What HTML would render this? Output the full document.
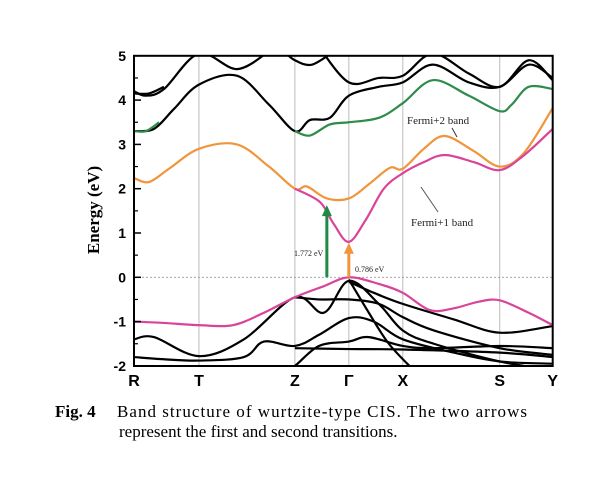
<!DOCTYPE html>
<html><head><meta charset="utf-8"><style>
body{margin:0;background:#fff;width:600px;height:481px;overflow:hidden}
svg{display:block}
</style></head><body>
<svg id="chart" width="600" height="481">
<defs><clipPath id="pc"><rect x="134" y="55.8" width="418.7" height="310.2"/></clipPath></defs>
<g id="grid"></g>
<line x1="134" x2="552.7" y1="277.3" y2="277.3" stroke="#999" stroke-dasharray="2,2" stroke-width="0.8"/>
<g id="bands" clip-path="url(#pc)"></g>
<rect x="134" y="55.8" width="418.7" height="310.2" fill="none" stroke="#000" stroke-width="2"/>
<g id="yaxis"></g>
<g id="xaxis"></g>
<text transform="translate(99,210) rotate(-90)" text-anchor="middle" font-family="Liberation Serif,serif" font-weight="bold" font-size="17">Energy (eV)</text>
<g id="ann"></g>
<text x="55" y="417" font-family="Liberation Serif,serif" font-size="17" font-weight="bold">Fig. 4</text>
<text x="117" y="417" font-family="Liberation Serif,serif" font-size="17" textLength="410" lengthAdjust="spacing">Band structure of wurtzite-type CIS. The two arrows</text>
<text x="119" y="437" font-family="Liberation Serif,serif" font-size="17">represent the first and second transitions.</text>
</svg>
<script>
const kLabels=['R','T','Z','Γ','X','S','Y'];
const kPos=[0,65,161,215,269,366,419];
const yTicks=[-2,-1,0,1,2,3,4,5];
const magentaVB=[[0,-1.0],[30,-1.03],[65,-1.08],[99,-1.08],[130,-0.8],[161,-0.45],[190,-0.2],[215,0.0],[245,-0.15],[269,-0.35],[296,-0.74],[320,-0.7],[345,-0.55],[366,-0.52],[395,-0.8],[419,-1.08]];
const magentaCB=[[161,2.0],[186,1.7],[200,1.2],[215,0.8],[232,1.3],[250,2.0],[269,2.35],[290,2.6],[311,2.76],[340,2.6],[366,2.42],[390,2.75],[419,3.35]];
const orange=[[0,2.24],[15,2.15],[35,2.45],[65,2.9],[103,3.0],[135,2.5],[161,2.0],[173,2.05],[193,1.78],[215,1.78],[235,2.1],[256,2.47],[269,2.45],[290,2.9],[311,3.19],[340,2.85],[366,2.5],[390,2.8],[419,3.82]];
const greenA=[[0,3.3],[12,3.3],[25,3.5]];
const greenB=[[161,3.3],[176,3.2],[196,3.45],[215,3.5],[245,3.6],[269,3.93],[299,4.45],[335,4.1],[366,3.75],[378,3.9],[395,4.3],[419,4.25]];
const blackBands=[
[[0,3.3],[20,3.35],[40,3.8],[65,4.35],[103,4.55],[135,3.9],[161,3.3],[176,3.55],[196,3.6],[215,4.1],[245,4.3],[269,4.4],[299,4.8],[335,4.4],[366,4.3],[395,4.8],[419,4.5]],
[[0,4.2],[12,4.1],[30,4.25],[65,5.05],[103,4.7],[135,5.1]],
[[0,4.15],[15,4.15],[30,4.3]],
[[150,5.1],[161,4.9],[178,4.8],[200,5.1]],
[[185,5.2],[215,4.4],[245,4.5],[269,4.55],[299,5.05],[335,4.6],[366,4.3],[395,4.9],[419,4.45]],
[[0,-1.4],[20,-1.35],[65,-1.78],[110,-1.4],[161,-0.45],[190,-0.8],[215,-0.08],[245,-0.6],[269,-1.2],[300,-1.5],[366,-1.9],[419,-2.1]],
[[0,-1.8],[30,-1.85],[65,-1.88],[110,-1.8],[130,-1.45],[161,-1.55],[185,-1.3],[215,-0.92],[240,-1.0],[269,-1.4],[320,-1.7],[366,-1.9],[419,-1.95]],
[[161,-0.45],[185,-0.5],[215,-0.5],[245,-0.6],[269,-0.9],[300,-1.2],[366,-1.6],[419,-1.75]],
[[150,-2.1],[161,-2.0],[185,-1.55],[215,-1.45],[235,-1.35],[269,-1.55],[300,-1.6],[366,-1.55],[419,-1.6]],
[[161,-1.6],[215,-1.62],[269,-1.63],[366,-1.7],[419,-1.8]],
[[215,-0.1],[240,-0.35],[269,-0.6],[320,-0.95],[366,-1.25],[419,-1.1]],
[[215,-0.05],[235,-0.8],[255,-1.5],[280,-2.1]]
];
const x0=134,xScale=(552.7-134)/419;
const X=k=>x0+k*xScale;
const Y=e=>277.3-e*44.3;
const NS='http://www.w3.org/2000/svg';
function mk(tag,attrs,parent){const e=document.createElementNS(NS,tag);for(const a in attrs)e.setAttribute(a,attrs[a]);parent.appendChild(e);return e;}
function pathD(pts){const p=pts.map(([k,e])=>[X(k),Y(e)]);let d='M'+p[0][0]+','+p[0][1];
for(let i=0;i<p.length-1;i++){const a=p[i-1]||p[i],b=p[i],c=p[i+1],n=p[i+2]||c;
d+=' C'+(b[0]+(c[0]-a[0])/6)+','+(b[1]+(c[1]-a[1])/6)+' '+(c[0]-(n[0]-b[0])/6)+','+(c[1]-(n[1]-b[1])/6)+' '+c[0]+','+c[1];}return d;}
const grid=document.getElementById('grid'),bands=document.getElementById('bands'),xa=document.getElementById('xaxis'),ya=document.getElementById('yaxis');
kPos.forEach((k,i)=>{
 if(i>0&&i<kPos.length-1){const l=mk('line',{x1:X(k),x2:X(k),y1:55.8,y2:366,stroke:'#bbb','stroke-width':1},grid);
 
 }
 const t=mk('text',{x:X(k),y:386,'text-anchor':'middle','font-family':'Liberation Sans,sans-serif','font-weight':'bold','font-size':16},xa);
 t.textContent=kLabels[i];
 
 
});
yTicks.forEach(v=>{
 const l=mk('line',{x1:134,x2:141,y1:Y(v),y2:Y(v),stroke:'#000','stroke-width':1.5},ya);
 
 
 if(v<5){const m=mk('line',{x1:134,x2:138,y1:Y(v+0.5),y2:Y(v+0.5),stroke:'#000','stroke-width':1.2},ya);
 
 }
 const t=mk('text',{x:126,y:Y(v)+5,'text-anchor':'end','font-family':'Liberation Sans,sans-serif','font-weight':'bold','font-size':14},ya);
 t.textContent=v;
 
 
});
function band(pts,color,name){const p=mk('path',{d:pathD(pts),fill:'none',stroke:color,'stroke-width':2.2},bands);
 
 }
blackBands.forEach((b,i)=>band(b,'#000','black-band-'+i));
band(greenA,'#2e8b4a','fermi-plus-2-band-left');
band(greenB,'#2e8b4a','fermi-plus-2-band');
band(orange,'#f0953a','orange-band');
band(magentaCB,'#d9449a','fermi-plus-1-band');
band(magentaVB,'#d9449a','valence-top-band');
const ann=document.getElementById('ann');
function arrow(k,e1,color,name){const x=X(k);
 const l=mk('line',{x1:x,x2:x,y1:Y(0),y2:Y(e1)+9,stroke:color,'stroke-width':3},ann);
 
 
 const h=mk('polygon',{points:`${x-5},${Y(e1)+11} ${x+5},${Y(e1)+11} ${x},${Y(e1)}`,fill:color},ann);
 
 }
arrow(193,1.63,'#1f8a45','first-transition-arrow');
arrow(215,0.78,'#f0953a','second-transition-arrow');
function txt(x,y,s,size,name){const t=mk('text',{x:x,y:y,'font-family':'Liberation Serif,serif','font-size':size,fill:'#222'},ann);t.textContent=s;
 
 }
txt(294,256,'1.772 eV',8,'label-1772-ev');
txt(355,272,'0.786 eV',8,'label-0786-ev');
txt(407,124,'Fermi+2 band',11,'label-fermi-plus-2');
txt(411,226,'Fermi+1 band',11,'label-fermi-plus-1');
const a1=mk('line',{x1:452,y1:128,x2:457,y2:137,stroke:'#333','stroke-width':1},ann);


const a2=mk('line',{x1:438,y1:212,x2:421,y2:187,stroke:'#555','stroke-width':1},ann);


</script>
</body></html>
